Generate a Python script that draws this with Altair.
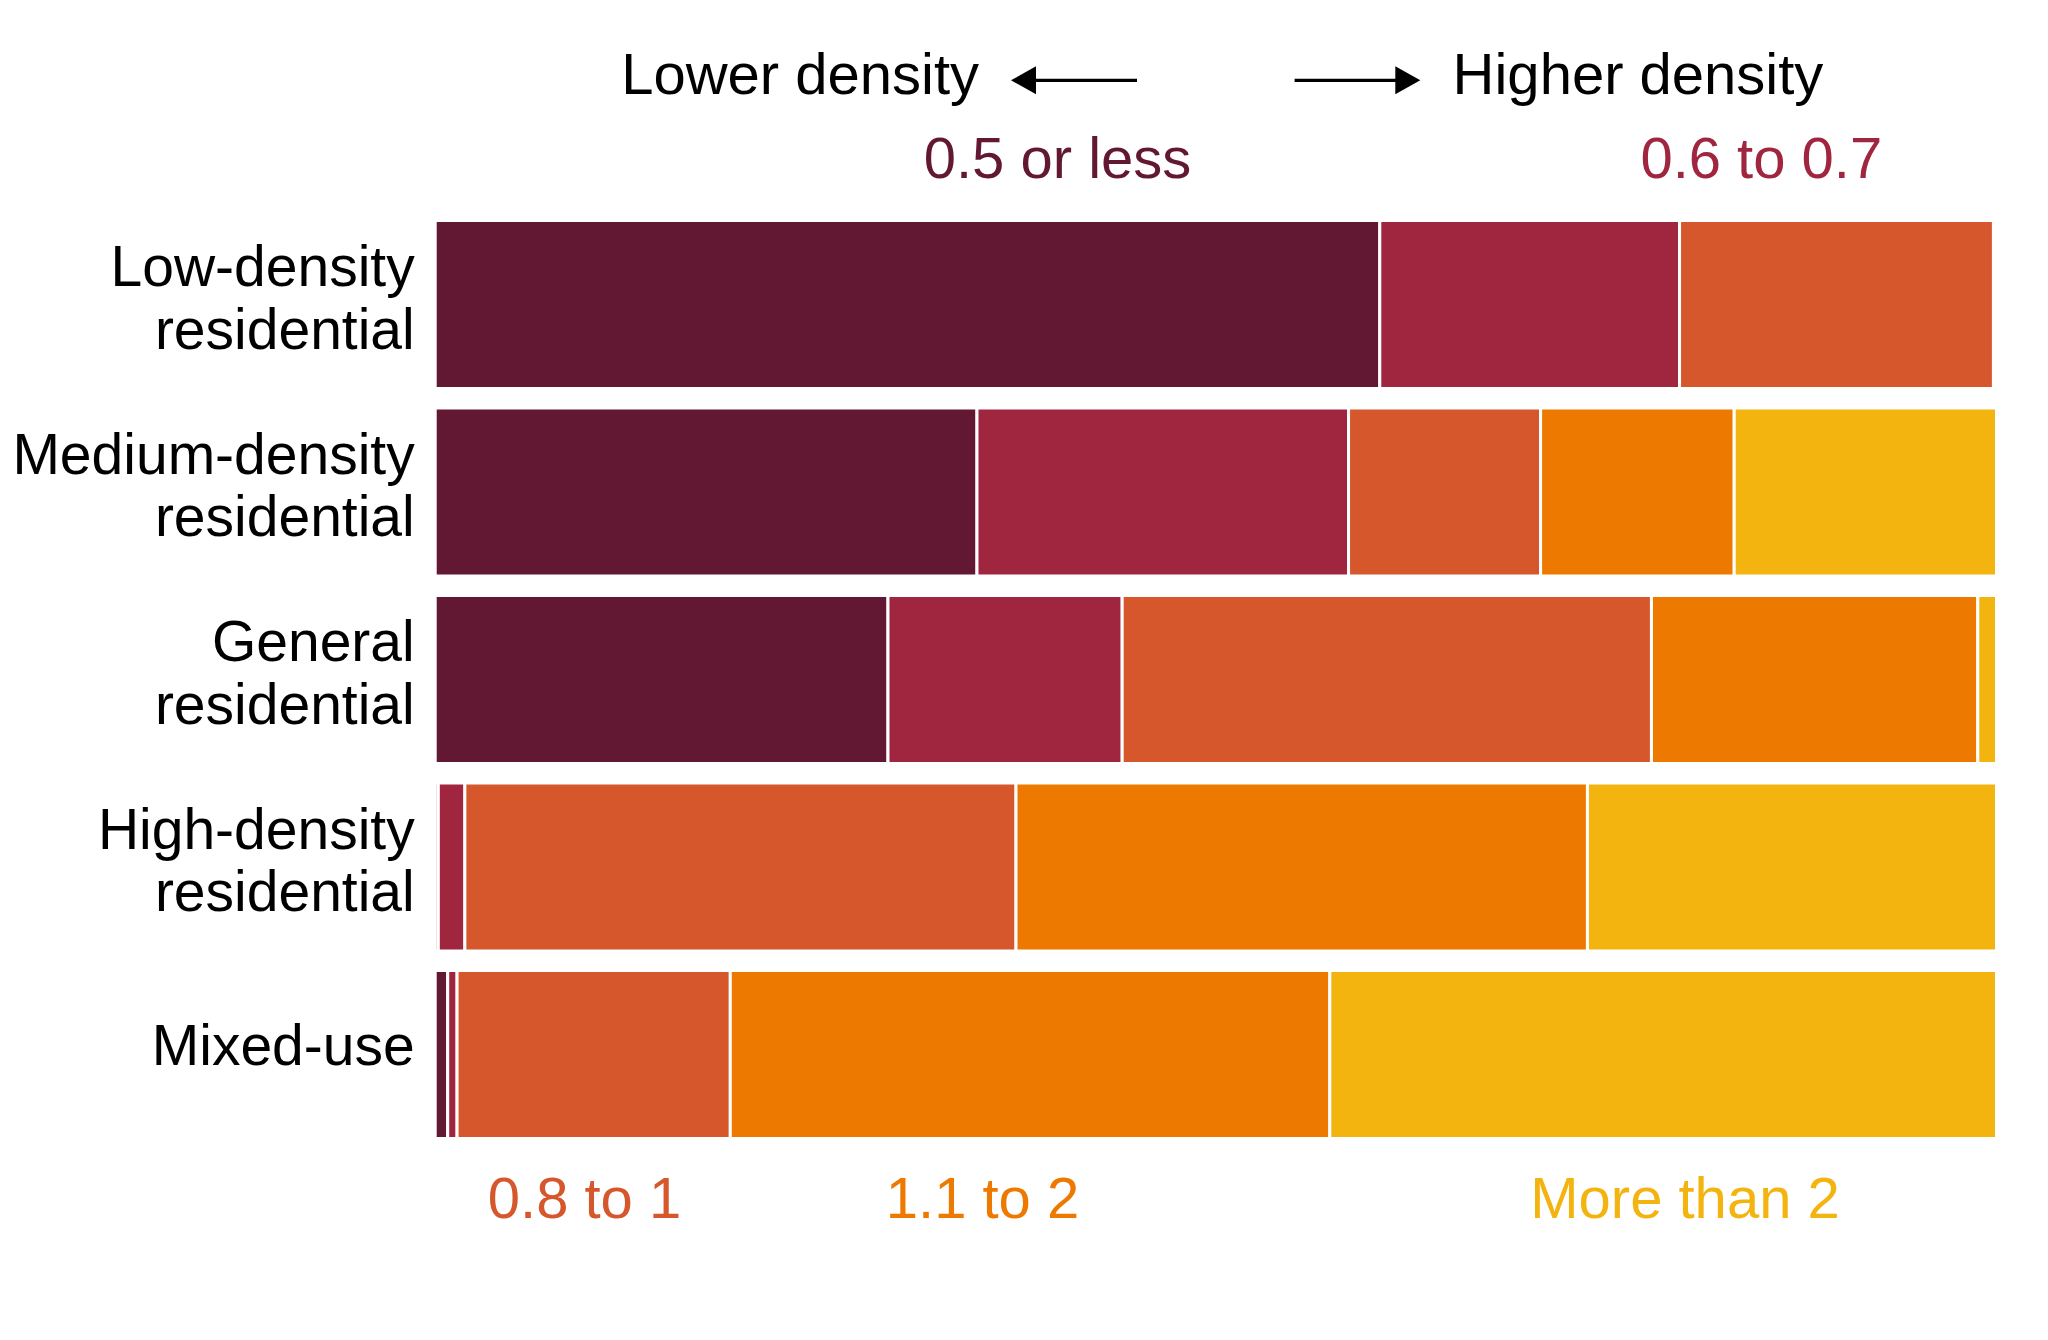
import altair as alt
import pandas as pd

# ---- data (percent of land in each zone, by floor-area-ratio bin) ----
categories = [
    "Low-density residential",
    "Medium-density residential",
    "General residential",
    "High-density residential",
    "Mixed-use",
]
bins = ["0.5 or less", "0.6 to 0.7", "0.8 to 1", "1.1 to 2", "More than 2"]
share_05_or_less = [60.5, 34.7, 29.0, 0.2, 0.8]
share_06_to_07 = [19.2, 23.8, 15.0, 1.7, 0.6]
share_08_to_1 = [20.1, 12.3, 33.9, 35.3, 17.5]
share_11_to_2 = [0.0, 12.4, 20.9, 36.6, 38.4]
share_more_than_2 = [0.0, 16.8, 1.2, 26.2, 42.7]
bin_colors = ["#621733", "#A0253F", "#D5572B", "#EE7900", "#F4B410"]

series = [share_05_or_less, share_06_to_07, share_08_to_1, share_11_to_2, share_more_than_2]
rows = []
for k, (b, vals) in enumerate(zip(bins, series)):
    for c, v in zip(categories, vals):
        if v > 0:
            rows.append({"zone": c, "bin": b, "k": k, "share": v})
df = pd.DataFrame(rows)

FONT = "Liberation Sans"
FS = 58
W, H = 1561.3, 918

bars = alt.Chart(df).mark_bar(stroke="white", strokeWidth=3).encode(
    x=alt.X("share:Q", stack="zero", scale=alt.Scale(domain=[0, 100], nice=False), axis=None),
    y=alt.Y(
        "zone:N",
        sort=categories,
        scale=alt.Scale(paddingInner=0.104, paddingOuter=0),
        axis=alt.Axis(
            title=None,
            ticks=False,
            domain=False,
            labelFont=FONT,
            labelFontSize=57,
            labelColor="black",
            labelPadding=21,
            labelAlign="right",
            labelLineHeight=62.6,
            labelOffset={
                "condition": {"test": "datum.label == 'Mixed-use'", "value": -6.5},
                "value": -35.3,
            },
            labelLimit=0,
            labelExpr="datum.label == 'Mixed-use' ? datum.label : split(datum.label, ' ')",
        ),
    ),
    color=alt.Color("bin:N", scale=alt.Scale(domain=bins, range=bin_colors), legend=None),
    order=alt.Order("k:Q", sort="ascending"),
)


def label(text, x, y, color, align):
    return alt.Chart(alt.Data(values=[{"t": text}])).mark_text(
        align=align, baseline="alphabetic", font=FONT, fontSize=FS, color=color
    ).encode(x=alt.value(x), y=alt.value(y), text="t:N")


def rule(x1, x2, y):
    return alt.Chart(alt.Data(values=[{"a": 1}])).mark_rule(color="black", strokeWidth=3.3).encode(
        x=alt.value(x1), x2=alt.value(x2), y=alt.value(y)
    )


def head(x, y, path):
    return alt.Chart(alt.Data(values=[{"a": 1}])).mark_point(
        shape=path, size=784, filled=True, color="black", opacity=1, strokeWidth=0
    ).encode(x=alt.value(x), y=alt.value(y))


left_head = "M -0.893 0 L 0.893 -1 L 0.893 1 Z"
right_head = "M 0.893 0 L -0.893 -1 L -0.893 1 Z"

annotations = [
    label("Lower density", 543.8, -126.5, "black", "right"),
    label("Higher density", 1017.4, -126.5, "black", "left"),
    rule(597, 701.8, -140.2),
    head(588.3, -140.2, left_head),
    rule(859.4, 963, -140.2),
    head(972.6, -140.2, right_head),
    label(bins[0], 622.3, -42.5, bin_colors[0], "center"),
    label(bins[1], 1326.1, -42.5, bin_colors[1], "center"),
    label(bins[2], 149.3, 997.5, bin_colors[2], "center"),
    label(bins[3], 547.3, 997.5, bin_colors[3], "center"),
    label(bins[4], 1249.8, 997.5, bin_colors[4], "center"),
]

chart = alt.layer(bars, *annotations).properties(
    width=W,
    height=H,
    autosize=alt.AutoSizeParams(type="none"),
    padding={"left": 427.2, "top": 212.5, "right": 40, "bottom": 150},
    background="white",
).configure_view(stroke=None)

chart.save("out.html", embed_options={"renderer": "svg", "actions": False})
